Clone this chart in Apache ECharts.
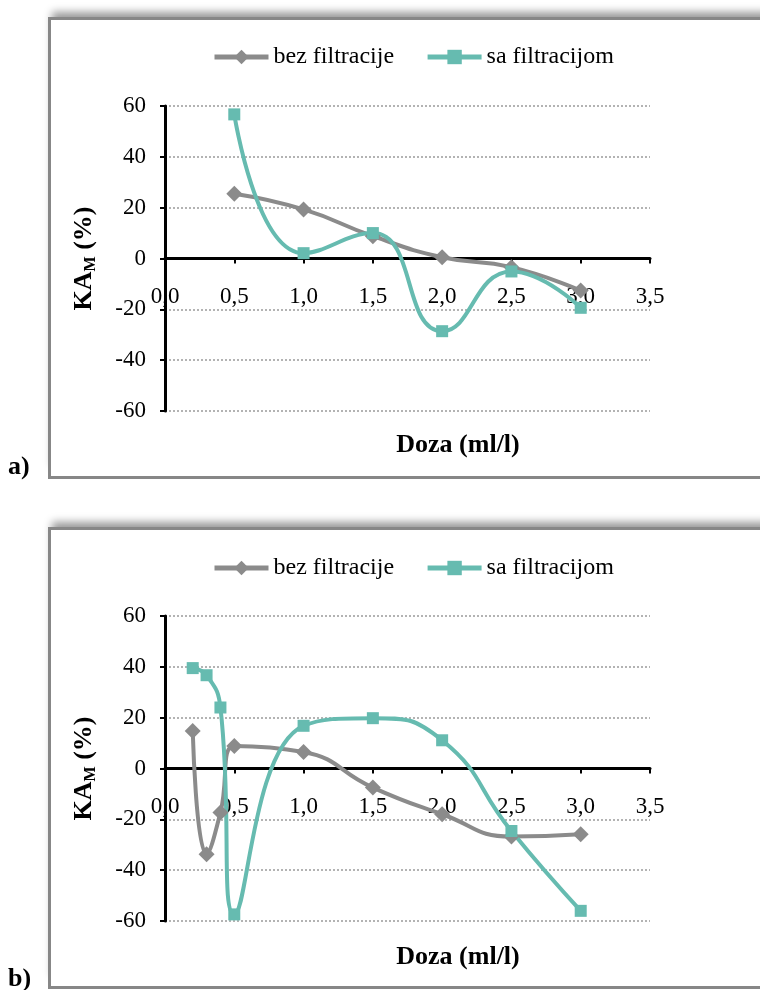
<!DOCTYPE html>
<html>
<head>
<meta charset="utf-8">
<script src="https://cdn.jsdelivr.net/npm/echarts@6/dist/echarts.min.js"></script>
<style>
  html, body { margin: 0; padding: 0; background: #fff; overflow: hidden; }
  .box {
    position: absolute; left: 48px; width: 760px;
    box-sizing: border-box; border: 3px solid #878787;
    box-shadow: 0 -9px 8px -4px rgba(0, 0, 0, 0.4);
    background: #fff;
  }
  #chart { position: absolute; left: 0; top: 0; width: 760px; height: 990px; }
</style>
</head>
<body>
<div class="box" style="top:17px;height:462px"></div>
<div class="box" style="top:527px;height:462px"></div>
<div id="chart"></div>
<script>
// a) podaci
const doseA = [0.5, 1.0, 1.5, 2.0, 2.5, 3.0];
const bezA = [25.5, 19.3, 8.8, 0.5, -3.4, -12.6];
const saA = [56.7, 2.1, 10.0, -28.6, -5.1, -19.4];
// b) podaci
const doseB = [0.2, 0.3, 0.4, 0.5, 1.0, 1.5, 2.0, 2.5, 3.0];
const bezB = [14.8, -33.7, -17.3, 8.9, 6.5, -7.5, -18.0, -26.8, -25.9];
const saB = [39.5, 36.7, 24.0, -57.4, 16.8, 19.8, 11.1, -24.6, -56.0];

const seriesNames = ['bez filtracije', 'sa filtracijom'];
const xTitle = 'Doza (ml/l)';

const serif = '"Liberation Serif", "Times New Roman", serif';
const grey = '#8b8b8b';
const teal = '#66bbb0';
const plotH = 305;

function pairs (xs, ys) {
  return xs.map((x, i) => [x, ys[i]]);
}

// x os sjedi na nuli (sredina grida), oznake idu s njom
function xAxisFor (gi) {
  return {
    gridIndex: gi,
    type: 'value',
    min: 0, max: 3.5, interval: 0.5,
    position: 'bottom',
    offset: -plotH / 2,
    axisLine: { onZero: false, lineStyle: { color: '#000', width: 3 } },
    axisTick: { show: true, length: 5, lineStyle: { color: '#000', width: 2 } },
    axisLabel: {
      margin: 27, color: '#000', fontFamily: serif, fontSize: 23,
      formatter: v => v.toFixed(1).replace('.', ',')
    },
    splitLine: { show: false }
  };
}

function yAxisFor (gi) {
  return {
    gridIndex: gi,
    type: 'value',
    min: -60, max: 60, interval: 20,
    axisLine: { lineStyle: { color: '#000', width: 3 } },
    axisTick: { show: true, length: 5, lineStyle: { color: '#000', width: 2 } },
    axisLabel: { margin: 19, color: '#000', fontFamily: serif, fontSize: 23 },
    splitLine: { lineStyle: { color: '#9a9a9a', width: 1.5, type: [2, 2] } },
    name: '{a|KA}{b|M}{a| (%)}',
    nameLocation: 'middle',
    nameGap: 66,
    nameTextStyle: {
      rich: {
        a: { fontFamily: serif, fontSize: 26, fontWeight: 'bold', color: '#000', lineHeight: 30 },
        b: { fontFamily: serif, fontSize: 16, fontWeight: 'bold', color: '#000', lineHeight: 30,
             verticalAlign: 'bottom', padding: [10, 0, 0, 0] }
      }
    }
  };
}

function lineSeries (name, gi, data, color, symbol, size) {
  return {
    name: name,
    type: 'line',
    xAxisIndex: gi, yAxisIndex: gi,
    data: data,
    smooth: 0.5,
    symbol: symbol,
    symbolSize: size,
    lineStyle: { color: color, width: 4 },
    itemStyle: { color: color },
    animation: false
  };
}

function legendAt (top) {
  return {
    top: top, left: 212, padding: 0,
    itemWidth: 54, itemHeight: 18, itemGap: 31,
    lineStyle: { width: 5 },
    textStyle: { fontFamily: serif, fontSize: 24, color: '#000' },
    data: seriesNames
  };
}

const chart = echarts.init(document.getElementById('chart'));
chart.setOption({
  backgroundColor: 'transparent',
  animation: false,
  legend: [legendAt(45), legendAt(556)],
  grid: [
    { left: 165, top: 106, width: 485, height: plotH },
    { left: 165, top: 616, width: 485, height: plotH }
  ],
  xAxis: [xAxisFor(0), xAxisFor(1)],
  yAxis: [yAxisFor(0), yAxisFor(1)],
  series: [
    lineSeries(seriesNames[0], 0, pairs(doseA, bezA), grey, 'diamond', 16),
    lineSeries(seriesNames[1], 0, pairs(doseA, saA), teal, 'rect', 12),
    lineSeries(seriesNames[0], 1, pairs(doseB, bezB), grey, 'diamond', 16),
    lineSeries(seriesNames[1], 1, pairs(doseB, saB), teal, 'rect', 12)
  ],
  graphic: [
    { type: 'text', x: 458, y: 445, style: { text: xTitle, font: 'bold 26px ' + serif, fill: '#000', align: 'center', verticalAlign: 'middle' } },
    { type: 'text', x: 458, y: 957, style: { text: xTitle, font: 'bold 26px ' + serif, fill: '#000', align: 'center', verticalAlign: 'middle' } },
    { type: 'text', x: 8, y: 467, style: { text: 'a)', font: 'bold 26px ' + serif, fill: '#000', verticalAlign: 'middle' } },
    { type: 'text', x: 8, y: 979, style: { text: 'b)', font: 'bold 26px ' + serif, fill: '#000', verticalAlign: 'middle' } }
  ]
});
</script>
</body>
</html>
